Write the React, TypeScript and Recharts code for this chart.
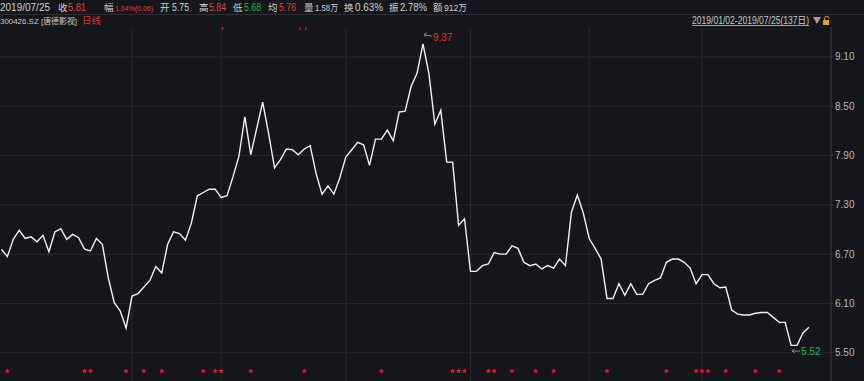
import React from 'react';
import { ComposedChart, Line, Scatter, XAxis, YAxis, ReferenceLine, ReferenceDot } from 'recharts';

const closes = [
  6.76, 6.67, 6.88, 6.99, 6.89, 6.91, 6.85, 6.93, 6.73, 6.97,
  7.01, 6.88, 6.94, 6.90, 6.76, 6.74, 6.89, 6.82, 6.41, 6.11,
  6.01, 5.80, 6.19, 6.22, 6.30, 6.38, 6.55, 6.47, 6.82, 6.97,
  6.95, 6.87, 7.08, 7.41, 7.45, 7.49, 7.49, 7.39, 7.41, 7.64,
  7.89, 8.37, 7.91, 8.23, 8.55, 8.17, 7.75, 7.85, 7.98, 7.97,
  7.91, 7.98, 8.02, 7.68, 7.43, 7.53, 7.43, 7.63, 7.88, 7.97,
  8.06, 8.03, 7.78, 8.10, 8.10, 8.21, 8.08, 8.43, 8.44, 8.74,
  8.90, 9.26, 8.90, 8.28, 8.45, 7.82, 7.82, 7.05, 7.13, 6.49,
  6.49, 6.56, 6.58, 6.72, 6.70, 6.70, 6.80, 6.77, 6.60, 6.56,
  6.58, 6.52, 6.56, 6.53, 6.64, 6.56, 7.21, 7.42, 7.20, 6.89,
  6.77, 6.64, 6.16, 6.16, 6.34, 6.20, 6.34, 6.21, 6.21, 6.34,
  6.38, 6.41, 6.60, 6.64, 6.64, 6.60, 6.53, 6.34, 6.45, 6.45,
  6.34, 6.29, 6.30, 6.02, 5.97, 5.96, 5.96, 5.98, 5.99, 5.99,
  5.93, 5.87, 5.87, 5.59, 5.59, 5.74, 5.81,
];

const starIdx = [1, 14, 15, 21, 24, 27, 34, 36, 37, 42, 51, 64, 76, 77, 78, 82, 83, 86, 90, 93, 102, 112, 117, 118, 119, 122, 127, 131];
const topMarkIdx = [37, 50, 51];
const monthStartIdx = [22, 37, 58, 79, 99, 118];
const yTicks = [5.5, 6.1, 6.7, 7.3, 7.9, 8.5, 9.1];
const highIdx = 71;
const highValue = 9.37;
const lowIdx = 133;
const lowValue = 5.52;

const headerDate = '2019/07/25';
const headerLabels = ['收', '幅', '开', '高', '低', '均', '量', '换', '振', '额'];
const headerValues = ['5.81', '1.04%(0.06)', '5.75', '5.84', '5.68', '5.76', '1.58万', '0.63%', '2.78%', '912万'];
const headerColors = ['#e83b3b', '#e83b3b', '#d0d0d0', '#e83b3b', '#1fb84a', '#e83b3b', '#d0d0d0', '#d0d0d0', '#d0d0d0', '#d0d0d0'];
const labelX = [58, 104, 160, 199, 233, 268, 304, 344, 389, 433];
const valueX = [68, 115, 172, 209, 244, 279, 315, 355, 400, 444];
const valueW = [18, 38, 17, 17, 17, 17, 23, 28, 27, 23];
const valueSize = [10, 8, 10, 10, 10, 10, 9, 10, 10, 9];
const stockName = '300426.SZ [唐德影视]';
const periodName = '日线';
const rangeText = '2019/01/02-2019/07/25(137日)';

const BG = '#14161b';
const GRID = '#272a30';
const FONT = '"Liberation Sans", "Noto Sans CJK SC", sans-serif';
const STAR_LEVEL = 5.277;
const TOP_LEVEL = 9.45;

const data = closes.map((c, i) => ({ i, close: c }));
const starData = starIdx.map((i) => ({ i, v: STAR_LEVEL }));
const topData = topMarkIdx.map((i) => ({ i, v: TOP_LEVEL }));

const starPoints = (cx: number, cy: number, r: number) => {
  const pts: string[] = [];
  for (let k = 0; k < 10; k++) {
    const rr = k % 2 === 0 ? r : r * 0.45;
    const a = -Math.PI / 2 + (k * Math.PI) / 5;
    pts.push(`${cx + rr * Math.cos(a)},${cy + rr * Math.sin(a)}`);
  }
  return pts.join(' ');
};

const StarShape = (props: any) => {
  const { cx, cy } = props;
  if (cx == null || cy == null) return null;
  return <polygon points={starPoints(cx, cy, 2.8)} fill="#e0202c" />;
};

const TopMark = (props: any) => {
  const { cx, cy } = props;
  if (cx == null || cy == null) return null;
  return <rect x={cx + 1} y={cy - 2} width={1.2} height={4} fill="#e0202c" />;
};

const HighLabel = (props: any) => {
  const { cx, cy } = props;
  return (
    <g>
      <path d={`M${cx + 1} ${cy} L${cx + 9} ${cy + 1.5} M${cx + 1} ${cy} L${cx + 3.5} ${cy - 2} M${cx + 1} ${cy} L${cx + 3} ${cy + 2}`} stroke="#9a9a9a" strokeWidth={0.9} fill="none" />
      <text x={cx + 10} y={cy + 6.5} fill="#e0303a" fontSize={10} fontFamily={FONT}>{highValue.toFixed(2)}</text>
    </g>
  );
};

const LowLabel = (props: any) => {
  const { cx, cy } = props;
  return (
    <g>
      <path d={`M${cx + 1} ${cy} L${cx + 9} ${cy} M${cx + 1} ${cy} L${cx + 3.5} ${cy - 2} M${cx + 1} ${cy} L${cx + 3.5} ${cy + 2}`} stroke="#9a9a9a" strokeWidth={0.9} fill="none" />
      <text x={cx + 10} y={cy + 3.6} fill="#1fb84a" fontSize={10} fontFamily={FONT}>{lowValue.toFixed(2)}</text>
    </g>
  );
};

export default function App() {
  return (
    <div style={{ position: 'relative', width: 864, height: 381, background: BG, overflow: 'hidden', fontFamily: FONT }}>
      <style>{`body{margin:0;background:${BG};}`}</style>
      <div style={{ position: 'absolute', left: 0, top: 0 }}>
        <ComposedChart width={864} height={381} data={data} margin={{ top: 27, right: 0, bottom: 0, left: 0 }}>
          <XAxis dataKey="i" type="number" domain={[-0.236, 139.72]} hide allowDataOverflow />
          <YAxis
            orientation="right"
            type="number"
            domain={[5.156, 9.464]}
            ticks={yTicks}
            interval={0}
            allowDataOverflow
            width={33}
            tickSize={2}
            tickMargin={2}
            tickFormatter={(v: number) => v.toFixed(2)}
            tick={{ fill: '#b8b8b8', fontSize: 10, fontFamily: FONT }}
            axisLine={{ stroke: '#3a3d44' }}
            tickLine={{ stroke: '#3a3d44' }}
          />
          {yTicks.map((t) => (
            <ReferenceLine key={`h${t}`} y={t} stroke={GRID} strokeWidth={1} />
          ))}
          {monthStartIdx.map((m) => (
            <ReferenceLine key={`v${m}`} x={m} stroke={GRID} strokeWidth={1} />
          ))}
          <Line type="linear" dataKey="close" stroke="#f2f2f2" strokeWidth={1.4} dot={false} isAnimationActive={false} />
          <Scatter data={starData} dataKey="v" shape={StarShape} isAnimationActive={false} />
          <Scatter data={topData} dataKey="v" shape={TopMark} isAnimationActive={false} />
          <ReferenceDot x={highIdx} y={highValue} r={0} shape={HighLabel} ifOverflow="visible" />
          <ReferenceDot x={lowIdx} y={lowValue} r={0} shape={LowLabel} ifOverflow="visible" />
        </ComposedChart>
      </div>
      <svg style={{ position: 'absolute', left: 0, top: 0 }} width={864} height={27}>
        <line x1={0} y1={14.5} x2={864} y2={14.5} stroke="#2c2f35" strokeWidth={1} />
        <text x={0} y={10.5} fontSize={10} fontFamily={FONT} fill="#d0d0d0" textLength={50} lengthAdjust="spacingAndGlyphs">{headerDate}</text>
        {headerLabels.map((l, k) => (
          <React.Fragment key={l}>
            <text x={labelX[k]} y={10.5} fontSize={9.5} fontFamily={FONT} fill="#d0d0d0">{l}</text>
            <text x={valueX[k]} y={10.5} fontSize={valueSize[k]} fontFamily={FONT} fill={headerColors[k]} textLength={valueW[k]} lengthAdjust="spacingAndGlyphs">{headerValues[k]}</text>
          </React.Fragment>
        ))}
        <text x={0} y={24} fontSize={8} fontFamily={FONT} fill="#c8c8c8" textLength={77} lengthAdjust="spacingAndGlyphs">{stockName}</text>
        <text x={82} y={24} fontSize={9.5} fontFamily={FONT} fill="#e0303a">{periodName}</text>
        <text x={692} y={24} fontSize={10} fontFamily={FONT} fill="#c8c8c8" textLength={117} lengthAdjust="spacingAndGlyphs">{rangeText}</text>
        <line x1={692} y1={25.5} x2={809} y2={25.5} stroke="#c8c8c8" strokeWidth={0.8} />
        <polygon points="813,17 821,17 817,24" fill="#a0a0a0" />
        <path d="M824.5 20 V18.5 a2.2 2.2 0 0 1 4.4 0" stroke="#e0a020" strokeWidth={1} fill="none" />
        <rect x={823} y={20} width={6} height={5} fill="#e0a020" />
      </svg>
    </div>
  );
}
